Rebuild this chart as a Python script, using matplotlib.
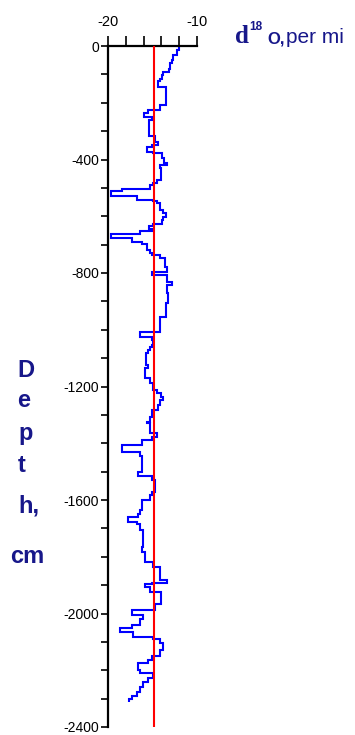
import numpy as np
import matplotlib
matplotlib.use("Agg")
import matplotlib.pyplot as plt

# ---- data (depth in cm, positive downwards; delta18O per mil) ----
seg_top = [0, 14, 32, 50, 61, 80, 90, 102, 115, 125,
           143, 208, 226, 237, 251, 260, 316, 337, 350, 355,
           372, 378, 396, 413, 419, 431, 472, 484, 490, 504,
           510, 529, 543, 548, 554, 578, 590, 601, 613, 628,
           636, 645, 651, 663, 678, 690, 698, 719, 731, 737,
           748, 778, 795, 807, 830, 842, 872, 907, 954, 1007,
           1024, 1036, 1054, 1060, 1071, 1083, 1124, 1136, 1171, 1189,
           1212, 1224, 1236, 1247, 1265, 1283, 1306, 1324, 1330, 1365,
           1377, 1388, 1405, 1430, 1445, 1500, 1515, 1529, 1571, 1582,
           1600, 1635, 1650, 1659, 1676, 1685, 1706, 1764, 1785, 1820,
           1835, 1882, 1891, 1897, 1908, 1923, 1967, 1988, 2005, 2020,
           2040, 2050, 2064, 2082, 2090, 2105, 2129, 2150, 2165, 2175,
           2199, 2211, 2226, 2240, 2260, 2275, 2290, 2300]
seg_value = [-12.0, -12.2, -12.66, -12.8, -13.03, -13.2, -13.78, -13.97, -14.16, -14.35,
             -13.48, -14.16, -15.47, -15.96, -15.09, -15.36, -14.72, -14.35, -15.1, -15.58,
             -14.91, -13.97, -13.71, -13.33, -14.16, -14.08, -14.53, -14.91, -15.28, -18.46,
             -19.7, -16.78, -14.91, -14.53, -14.16, -13.78, -13.48, -13.78, -13.97, -14.91,
             -15.36, -15.09, -16.4, -19.7, -17.34, -16.22, -15.66, -15.28, -15.09, -14.16,
             -13.6, -13.33, -15.09, -13.33, -12.85, -13.41, -13.22, -13.48, -14.16, -16.4,
             -15.09, -14.91, -15.09, -15.28, -15.47, -15.73, -15.47, -15.84, -15.28, -14.91,
             -14.53, -14.0, -13.78, -14.16, -14.35, -15.09, -15.28, -15.66, -15.28, -14.53,
             -15.09, -16.22, -18.46, -16.4, -16.22, -16.59, -15.09, -14.72, -15.09, -15.28,
             -16.22, -16.4, -16.59, -17.72, -16.78, -16.4, -16.03, -16.22, -15.84, -14.91,
             -14.16, -13.41, -15.09, -15.84, -15.28, -14.08, -14.72, -17.34, -16.03, -16.4,
             -17.34, -18.65, -17.15, -14.91, -14.16, -13.78, -14.16, -15.09, -15.47, -16.59,
             -16.4, -14.91, -15.47, -16.03, -16.4, -16.78, -17.34, -17.6]
profile_bottom = 2311
mean_value = -14.85

x_ticks_labeled = [-20, -10]
x_ticks_minor = [-18, -16, -14, -12]
y_ticks_labeled = [0, -400, -800, -1200, -1600, -2000, -2400]
y_ticks_minor = list(range(-100, -2400, -100))

navy = "#17178a"
W, H = 355, 735

plt.rcParams['font.family'] = ['Liberation Sans', 'DejaVu Sans']

fig = plt.figure(figsize=(W / 100, H / 100), dpi=100)
ax = fig.add_axes([108 / W, (H - 727) / H, 89 / W, 681 / H])

edges = -np.array(seg_top + [profile_bottom], dtype=float)
ax.stairs(np.array(seg_value), edges, orientation='horizontal', baseline=None,
          color='#0000ff', linewidth=1.5)
ax.axvline(mean_value, color='#ff0000', linewidth=1.5, zorder=3)

ax.set_xlim(-20, -10)
ax.set_ylim(-2400, 0)

for s in ['right', 'bottom']:
    ax.spines[s].set_visible(False)
for s in ['left', 'top']:
    ax.spines[s].set_linewidth(1.6)
    ax.spines[s].set_clip_on(False)

ax.xaxis.tick_top()
ax.set_xticks(x_ticks_labeled)
ax.set_xticklabels([str(v) for v in x_ticks_labeled])
ax.set_xticks(x_ticks_minor, minor=True)
ax.set_yticks(y_ticks_labeled)
ax.set_yticklabels([str(v) for v in y_ticks_labeled])
ax.set_yticks(y_ticks_minor, minor=True)

ax.tick_params(axis='x', which='both', direction='out', length=7.5, width=1.2,
               pad=5, labelsize=10.5, top=True, bottom=False)
ax.tick_params(axis='y', which='both', direction='out', length=5, width=1.2,
               pad=1.5, labelsize=10)
ax.patch.set_alpha(0)

# vertical axis label, one letter group per line
label_parts = ["D", "e", "p", "t", "h,", "cm"]
label_x = [17, 17, 18, 18, 18, 10]
label_base = [377, 407, 440, 472, 512, 563]
for txt, px, py in zip(label_parts, label_x, label_base):
    fig.text(px / W, (H - py) / H, txt, fontsize=17, fontweight='bold',
             color=navy, ha='left', va='baseline')

# title pieces
fig.text(235 / W, (H - 43) / H, "d", family='Liberation Serif', fontsize=18,
         fontweight='bold', color=navy, ha='left', va='baseline')
fig.text(249 / W, (H - 30) / H, "18", fontsize=8.5, fontweight='bold',
         color=navy, ha='left', va='baseline')
fig.text(267 / W, (H - 43) / H, "O,", fontsize=12, fontweight='bold',
         color=navy, ha='left', va='baseline')
fig.text(286 / W, (H - 43) / H, "per mi", fontsize=15,
         color=navy, ha='left', va='baseline')

fig.savefig("out.png", dpi=100)
